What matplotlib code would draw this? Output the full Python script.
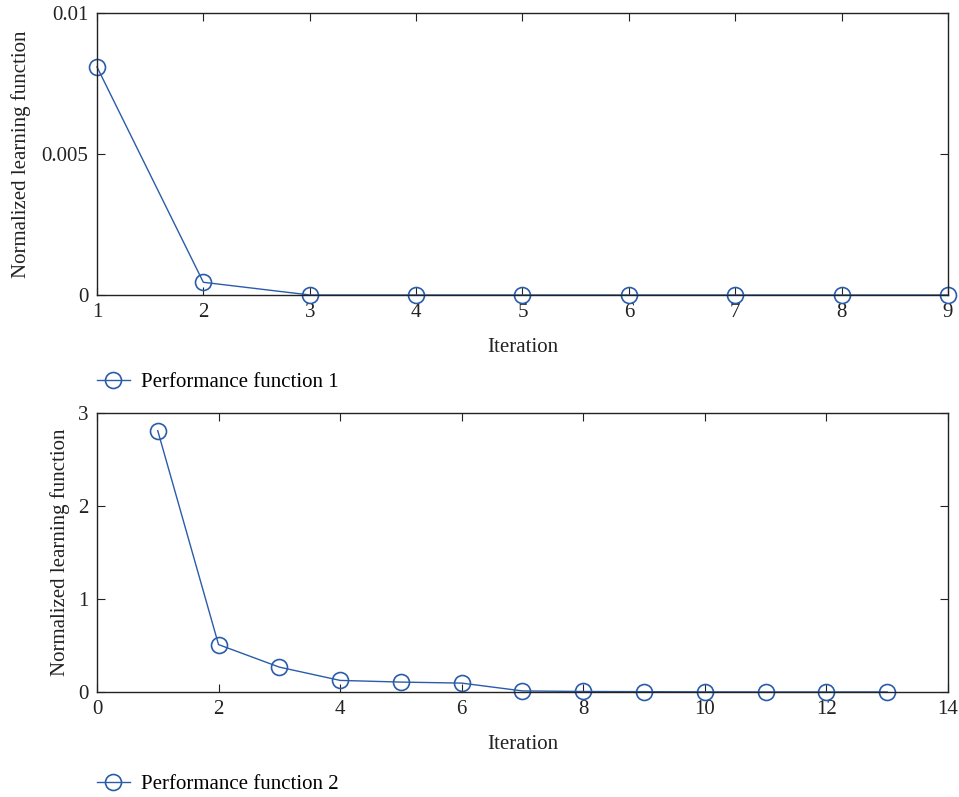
import matplotlib
matplotlib.use("Agg")
import matplotlib.pyplot as plt

plt.rcParams["font.family"] = ["Liberation Serif", "DejaVu Serif"]
plt.rcParams["font.size"] = 15

# performance function 1
iter1 = [1, 2, 3, 4, 5, 6, 7, 8, 9]
perf1 = [0.00809, 0.00045, 0.0, 0.0, 0.0, 0.0, 0.0, 0.0, 0.0]

# performance function 2
iter2 = [1, 2, 3, 4, 5, 6, 7, 8, 9, 10, 11, 12, 13]
perf2 = [2.81, 0.51, 0.268, 0.125, 0.107, 0.096, 0.012, 0.006, 0.004, 0.002, 0.001, 0.001, 0.001]

xticks1 = [1, 2, 3, 4, 5, 6, 7, 8, 9]
yticks1 = [0, 0.005, 0.01]
yticklabels1 = ["0", "0.005", "0.01"]
xticks2 = [0, 2, 4, 6, 8, 10, 12, 14]
yticks2 = [0, 1, 2, 3]

COLOR = "#2a5caa"
FS = 15

fig = plt.figure(figsize=(9.59, 7.97), dpi=100)
ax1 = fig.add_axes([0.1011, 0.6299, 0.8874, 0.3538])
ax2 = fig.add_axes([0.1011, 0.1317, 0.8874, 0.3501])


def style(ax):
    ax.tick_params(direction="in", top=True, right=True, length=6, width=0.8,
                   labelsize=FS, colors="#222222", pad=6)
    for s in ax.spines.values():
        s.set_linewidth(1.0)
        s.set_color("#222222")


l1, = ax1.plot(iter1, perf1, color=COLOR, lw=1.0, marker="o", ms=11.5,
               mfc="none", mec=COLOR, mew=1.2, clip_on=False)
ax1.set_xlim(1, 9)
ax1.set_ylim(0, 0.01)
ax1.set_xticks(xticks1)
ax1.set_yticks(yticks1)
ax1.set_yticklabels(yticklabels1)
ax1.set_xlabel("Iteration", fontsize=FS, color="#222222", labelpad=11)
ax1.set_ylabel("Normalized learning function", fontsize=FS, color="#222222", labelpad=8)
style(ax1)
ax1.legend([l1], ["Performance function 1"], loc="center left",
           bbox_to_anchor=(-0.01, -0.309), frameon=False, fontsize=FS,
           handlelength=1.6, handletextpad=0.5, borderaxespad=0)

l2, = ax2.plot(iter2, perf2, color=COLOR, lw=1.0, marker="o", ms=11.5,
               mfc="none", mec=COLOR, mew=1.2, clip_on=False)
ax2.set_xlim(0, 14)
ax2.set_ylim(0, 3)
ax2.set_xticks(xticks2)
ax2.set_yticks(yticks2)
ax2.set_xlabel("Iteration", fontsize=FS, color="#222222", labelpad=11)
ax2.set_ylabel("Normalized learning function", fontsize=FS, color="#222222", labelpad=6)
style(ax2)
ax2.legend([l2], ["Performance function 2"], loc="center left",
           bbox_to_anchor=(-0.01, -0.33), frameon=False, fontsize=FS,
           handlelength=1.6, handletextpad=0.5, borderaxespad=0)

fig.savefig("out.png", dpi=100)
